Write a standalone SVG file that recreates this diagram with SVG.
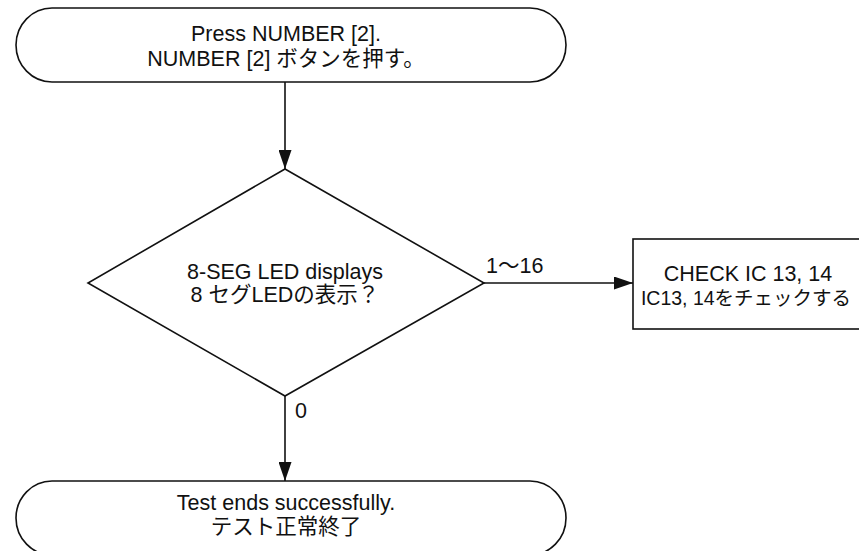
<svg xmlns="http://www.w3.org/2000/svg" width="859" height="551" viewBox="0 0 859 551">
<defs>
<style>
.shape{fill:#fff;stroke:#111;stroke-width:1.6}
.conn{fill:none;stroke:#111;stroke-width:1.6}
text{font-family:"Liberation Sans","Noto Sans CJK JP",sans-serif;font-size:21.5px;fill:#111}
.c{text-anchor:middle}
</style>
<marker id="arr" markerUnits="userSpaceOnUse" markerWidth="19" markerHeight="13" refX="19" refY="6.5" orient="auto">
<path d="M0,0 L19,6.5 L0,13 z" fill="#111"/>
</marker>
</defs>
<rect width="859" height="551" fill="#fff"/>
<g id="connectors">
<line class="conn" x1="285" y1="82" x2="285" y2="169" marker-end="url(#arr)"/>
<line class="conn" x1="484" y1="283" x2="633" y2="283" marker-end="url(#arr)"/>
<line class="conn" x1="285" y1="396" x2="285" y2="481" marker-end="url(#arr)"/>
<text x="486" y="273">1～16</text>
<text x="295" y="418">0</text>
</g>
<g id="start">
<rect class="shape" x="16" y="8" width="550" height="74" rx="36" ry="37"/>
<text class="c" x="286" y="41">Press NUMBER [2].</text>
<text class="c" x="286" y="66">NUMBER [2] ボタンを押す。</text>
</g>
<g id="decision">
<polygon class="shape" points="285,169 484,283 285,396 88,283"/>
<text class="c" x="285" y="279">8-SEG LED displays</text>
<text class="c" x="285" y="302">8 セグLEDの表示？</text>
</g>
<g id="check">
<rect class="shape" x="633" y="239" width="240" height="90"/>
<text class="c" x="748" y="281">CHECK IC 13, 14</text>
<text class="c" x="746" y="305" style="font-size:19.5px">IC13, 14をチェックする</text>
</g>
<g id="end">
<rect class="shape" x="16" y="481" width="550" height="74" rx="36" ry="37"/>
<text class="c" x="286" y="510">Test ends successfully.</text>
<text class="c" x="286" y="534">テスト正常終了</text>
</g>
</svg>
